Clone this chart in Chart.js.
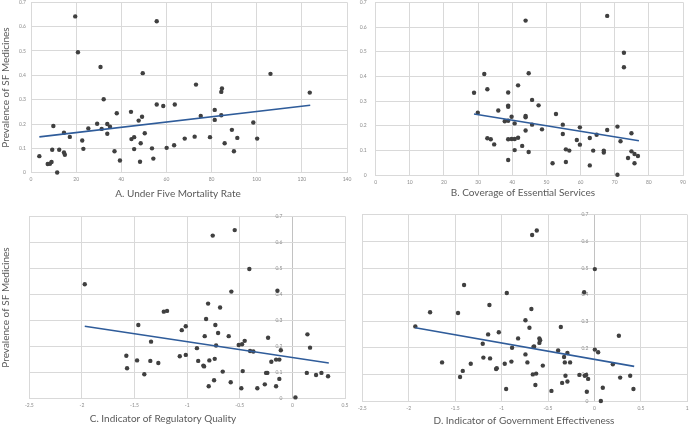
<!DOCTYPE html>
<html>
<head>
<meta charset="utf-8">
<script src="https://cdn.jsdelivr.net/npm/chart.js@4/dist/chart.umd.min.js"></script>
<style>
  html, body { margin: 0; padding: 0; background: #fff; width: 689px; height: 426px; overflow: hidden; position: relative; }
  canvas { position: absolute; left: -20px; top: -20px; }
</style>
</head>
<body>
<canvas id="chartA" width="729" height="466"></canvas>
<canvas id="chartB" width="729" height="466"></canvas>
<canvas id="chartC" width="729" height="466"></canvas>
<canvas id="chartD" width="729" height="466"></canvas>
<script>
// Prevalence of substandard/falsified medicines vs four country indicators.

// ── Tick labels ──────────────────────────────────────────────────────────────
const Y_TICKS = [0, 0.1, 0.2, 0.3, 0.4, 0.5, 0.6, 0.7];
const U5MR_TICKS = [0, 20, 40, 60, 80, 100, 120, 140];
const UHC_TICKS = [0, 10, 20, 30, 40, 50, 60, 70, 80, 90];
const RQ_TICKS = [-2.5, -2, -1.5, -1, -0.5, 0, 0.5];
const GE_TICKS = [-2.5, -2, -1.5, -1, -0.5, 0, 0.5, 1];

// ── A. Under five mortality rate ─────────────────────────────────────────────
const u5mr = [3.7, 7.4, 8.4, 9.1, 9.4, 9.9, 11.6, 12.5, 14.6, 14.6, 15.0, 17.2, 19.6, 20.8, 22.7, 23.2,
  25.4, 29.3, 30.8, 31.3, 32.2, 33.8, 33.8, 35.0, 37.0, 38.0, 39.4, 44.3, 44.5, 45.7, 45.7, 47.7,
  48.3, 48.6, 49.2, 49.5, 50.4, 53.6, 54.2, 55.7, 55.7, 58.6, 60.1, 63.4, 63.7, 68.1, 72.5, 73.1,
  75.2, 79.3, 81.4, 81.4, 84.3, 84.6, 84.3, 85.8, 89.0, 89.9, 91.4, 98.5, 100.2, 106.1, 123.5];
const sfA = [0.068, 0.036, 0.037, 0.044, 0.094, 0.192, 0.001, 0.094, 0.164, 0.083, 0.074, 0.147, 0.642, 0.495, 0.132, 0.098,
  0.182, 0.201, 0.434, 0.180, 0.302, 0.200, 0.160, 0.189, 0.088, 0.244, 0.050, 0.250, 0.138, 0.146, 0.097, 0.214,
  0.045, 0.121, 0.230, 0.409, 0.162, 0.100, 0.058, 0.622, 0.280, 0.274, 0.102, 0.113, 0.280, 0.140, 0.148, 0.362,
  0.233, 0.146, 0.258, 0.217, 0.332, 0.346, 0.236, 0.121, 0.176, 0.088, 0.143, 0.206, 0.140, 0.406, 0.329];
const trendAx = [3.7, 123.7];
const trendAy = [0.147, 0.277];

// ── B. Coverage of essential services ────────────────────────────────────────
const uhc = [28.8, 29.9, 31.8, 32.7, 32.7, 33.7, 34.7, 35.9, 37.8, 38.8, 38.8, 38.8, 38.8, 38.8, 38.8, 39.8,
  39.8, 40.7, 40.7, 40.7, 41.7, 41.7, 42.9, 43.9, 43.9, 43.9, 43.9, 44.8, 44.8, 45.8, 45.8, 47.7,
  48.7, 51.8, 52.8, 54.8, 54.8, 55.7, 55.7, 56.7, 58.9, 59.8, 59.8, 62.7, 62.7, 63.7, 64.7, 66.8,
  66.8, 67.8, 67.8, 70.8, 70.8, 71.7, 72.7, 72.7, 73.9, 74.9, 74.9, 75.8, 75.8, 76.8];
const sfB = [0.334, 0.253, 0.410, 0.348, 0.150, 0.146, 0.125, 0.262, 0.219, 0.221, 0.335, 0.282, 0.277, 0.146, 0.062, 0.237,
  0.147, 0.210, 0.147, 0.102, 0.364, 0.152, 0.119, 0.626, 0.240, 0.235, 0.181, 0.413, 0.094, 0.305, 0.205, 0.283,
  0.186, 0.049, 0.248, 0.205, 0.167, 0.105, 0.054, 0.100, 0.143, 0.194, 0.124, 0.151, 0.040, 0.100, 0.164, 0.100,
  0.092, 0.183, 0.645, 0.197, 0.002, 0.138, 0.496, 0.437, 0.070, 0.170, 0.097, 0.086, 0.049, 0.078];
const trendBx = [28.8, 77.1];
const trendBy = [0.248, 0.140];

// ── C. Indicator of regulatory quality ───────────────────────────────────────
const regQuality = [-1.973, -1.578, -1.571, -1.476, -1.464, -1.407, -1.350, -1.343, -1.274, -1.222, -1.191, -1.070, -1.051, -1.013, -1.013, -0.907,
  -0.895, -0.846, -0.839, -0.833, -0.820, -0.801, -0.795, -0.789, -0.757, -0.744, -0.738, -0.732, -0.725, -0.706, -0.687, -0.662,
  -0.605, -0.586, -0.580, -0.548, -0.510, -0.485, -0.478, -0.472, -0.453, -0.409, -0.402, -0.371, -0.333, -0.262, -0.250, -0.238,
  -0.231, -0.200, -0.155, -0.155, -0.142, -0.124, -0.124, -0.110, 0.029, 0.137, 0.143, 0.168, 0.225, 0.276, 0.339];
const sfC = [0.439, 0.165, 0.117, 0.147, 0.283, 0.094, 0.145, 0.219, 0.137, 0.334, 0.337, 0.163, 0.263, 0.278, 0.168, 0.194,
  0.145, 0.127, 0.124, 0.240, 0.306, 0.365, 0.048, 0.147, 0.626, 0.071, 0.153, 0.283, 0.204, 0.252, 0.350, 0.104,
  0.240, 0.063, 0.411, 0.647, 0.206, 0.040, 0.209, 0.106, 0.222, 0.498, 0.183, 0.181, 0.040, 0.055, 0.099, 0.099,
  0.234, 0.142, 0.048, 0.150, 0.414, 0.150, 0.076, 0.186, 0.005, 0.099, 0.247, 0.196, 0.091, 0.099, 0.086];
const trendCx = [-1.973, 0.346];
const trendCy = [0.278, 0.137];

// ── D. Indicator of government effectiveness ─────────────────────────────────
const govEff = [-1.929, -1.770, -1.641, -1.469, -1.447, -1.418, -1.404, -1.332, -1.203, -1.196, -1.145, -1.131, -1.124, -1.059, -1.052, -1.030,
  -0.966, -0.951, -0.944, -0.894, -0.887, -0.822, -0.743, -0.743, -0.722, -0.700, -0.679, -0.671, -0.664, -0.657, -0.650, -0.636,
  -0.628, -0.621, -0.593, -0.585, -0.593, -0.556, -0.463, -0.391, -0.362, -0.348, -0.327, -0.319, -0.312, -0.291, -0.291, -0.262,
  -0.162, -0.111, -0.104, -0.089, -0.082, -0.068, 0.004, 0.004, 0.040, 0.069, 0.090, 0.198, 0.263, 0.277, 0.385, 0.420];
const sfD = [0.281, 0.334, 0.146, 0.331, 0.091, 0.114, 0.436, 0.141, 0.216, 0.164, 0.251, 0.361, 0.161, 0.121, 0.124, 0.259,
  0.141, 0.046, 0.406, 0.149, 0.201, 0.236, 0.176, 0.304, 0.146, 0.276, 0.346, 0.624, 0.101, 0.204, 0.206, 0.061,
  0.104, 0.641, 0.236, 0.229, 0.219, 0.134, 0.039, 0.191, 0.279, 0.069, 0.166, 0.146, 0.096, 0.181, 0.074, 0.146,
  0.099, 0.409, 0.096, 0.099, 0.036, 0.084, 0.496, 0.194, 0.184, 0.001, 0.051, 0.139, 0.246, 0.089, 0.096, 0.046];
const trendDx = [-1.929, 0.428];
const trendDy = [0.276, 0.131];

// ── Styling / layout ─────────────────────────────────────────────────────────
const OFF = 20, CW = 729, CH = 466;          // canvases overhang the page by OFF
const FAMILY = 'Lato, "Noto Sans", sans-serif';
const TITLE_SIZE = 10;
const TITLE_FONT = { family: FAMILY, size: TITLE_SIZE };
const TICK_FONT = { family: FAMILY, size: 5 };
const LH = TITLE_SIZE * 1.2;
const GRID = '#d9d9d9', AXIS = '#c2c2c2', DOT = '#404040', LINE = '#2f5c9a';
const TITLE_COLOR = '#595959', TICK_COLOR = '#8c8c8c';
const Y_LABEL_W = 18, X_LABEL_H = 12;

const pts = (xs, ys) => xs.map((x, i) => ({ x, y: ys[i] }));
const fixTicks = (arr) => (s) => { s.ticks = arr.map((value) => ({ value })); };

// widest y label, so labels can be right-aligned against the x = 0 axis
const meas = document.createElement('canvas').getContext('2d');
meas.font = `${TICK_FONT.size}px ${FAMILY}`;
const Y_WIDEST = Math.max(...Y_TICKS.map((v) => meas.measureText(String(v)).width));

// moves the x-axis title to its own centre
const xTitlePos = {
  id: 'xTitlePos',
  afterLayout(chart, args, opts) {
    const s = chart.scales.xt;
    const half = (s.right - s.left) / 2;
    s.left = opts.cx + OFF - half;
    s.right = opts.cx + OFF + half;
  },
};

Chart.defaults.font.family = FAMILY;

function panel(id, g) {
  const tickOpts = { font: TICK_FONT, color: TICK_COLOR, autoSkip: false, maxRotation: 0, callback: (v) => String(v) };
  const xMin = g.xTicks[0], xMax = g.xTicks[g.xTicks.length - 1];
  const yW = g.yAt0 ? 0 : Y_LABEL_W;
  const cross = g.yAt0 ? (0 - xMin) / (xMax - xMin) * (g.area.r - g.area.l) : 0;
  const hasYTitle = g.yTitleX != null;
  const pl = hasYTitle ? g.yTitleX + OFF - LH / 2 : g.area.l + OFF - yW;
  const pb = CH - (g.xTitleY + OFF + LH / 2);
  const scales = {
    x: {
      type: 'linear', position: 'bottom', weight: 0, min: xMin, max: xMax,
      afterBuildTicks: fixTicks(g.xTicks),
      afterFit: (s) => { s.height = X_LABEL_H; },
      ticks: { ...tickOpts, padding: 4 },
      grid: { color: (c) => (g.yAt0 && c.tick && c.tick.value === 0 ? AXIS : GRID), drawTicks: false },
      border: { color: GRID },
    },
    xt: {
      type: 'linear', position: 'bottom', weight: 1,
      afterFit: (s) => { s.height = (CH - pb) - (g.area.b + OFF) - X_LABEL_H; },
      ticks: { display: false }, grid: { display: false }, border: { display: false },
      title: { display: true, text: g.xTitle, font: TITLE_FONT, color: TITLE_COLOR, padding: 0 },
    },
    y: {
      type: 'linear', position: 'left', weight: 0,
      min: Y_TICKS[0], max: Y_TICKS[Y_TICKS.length - 1],
      afterBuildTicks: fixTicks(Y_TICKS),
      afterFit: (s) => {
        s.width = yW;
        if (g.yAt0) { s.paddingTop = 0; s.paddingBottom = 0; }
      },
      // governance panels: labels mirrored into the plot, right-aligned just left of x = 0
      ticks: g.yAt0
        ? { ...tickOpts, mirror: true, crossAlign: 'far', padding: cross - g.yGap - Y_WIDEST }
        : { ...tickOpts, padding: g.yGap },
      grid: { color: GRID, drawTicks: false },
      border: { color: GRID },
    },
  };
  if (hasYTitle) {
    scales.yt = {
      type: 'linear', position: 'left', weight: 1,
      afterFit: (s) => { s.width = g.area.l + OFF - pl - yW; },
      ticks: { display: false }, grid: { display: false }, border: { display: false },
      title: { display: true, text: 'Prevalence of SF Medicines', font: TITLE_FONT, color: TITLE_COLOR, padding: 0 },
    };
  }
  return new Chart(document.getElementById(id), {
    type: 'scatter',
    data: {
      datasets: [
        { data: g.points, order: 1, pointRadius: 2.2, pointHoverRadius: 2.2, pointBackgroundColor: DOT, pointBorderWidth: 0, clip: 4 },
        { data: g.trend, order: 0, showLine: true, borderColor: LINE, borderWidth: 1.6, pointRadius: 0, pointHoverRadius: 0 },
      ],
    },
    options: {
      responsive: false, animation: false, devicePixelRatio: 1,
      layout: { padding: { left: pl, top: g.area.t + OFF, right: CW - (g.area.r + OFF), bottom: pb } },
      plugins: { legend: { display: false }, tooltip: { enabled: false }, xTitlePos: { cx: g.xTitleX } },
      scales,
    },
    plugins: [xTitlePos],
  });
}

panel('chartA', {
  area: { l: 31, t: 2.3, r: 347, b: 172.7 }, xTicks: U5MR_TICKS, yGap: 5,
  xTitle: 'A. Under Five Mortality Rate', xTitleX: 178, xTitleY: 193.5, yTitleX: 5.5,
  points: pts(u5mr, sfA), trend: pts(trendAx, trendAy),
});
panel('chartB', {
  area: { l: 375.7, t: 2.3, r: 683, b: 175.3 }, xTicks: UHC_TICKS, yGap: 9,
  xTitle: 'B. Coverage of Essential Services', xTitleX: 523, xTitleY: 193,
  points: pts(uhc, sfB), trend: pts(trendBx, trendBy),
});
panel('chartC', {
  area: { l: 29.3, t: 216.3, r: 345, b: 398.7 }, xTicks: RQ_TICKS, yAt0: true, yGap: 10,
  xTitle: 'C. Indicator of Regulatory Quality', xTitleX: 163, xTitleY: 419, yTitleX: 5.5,
  points: pts(regQuality, sfC), trend: pts(trendCx, trendCy),
});
panel('chartD', {
  area: { l: 362.3, t: 214.7, r: 687.3, b: 401.3 }, xTicks: GE_TICKS, yAt0: true, yGap: 6,
  xTitle: 'D. Indicator of Government Effectiveness', xTitleX: 524, xTitleY: 420.3,
  points: pts(govEff, sfD), trend: pts(trendDx, trendDy),
});
</script>
</body>
</html>
